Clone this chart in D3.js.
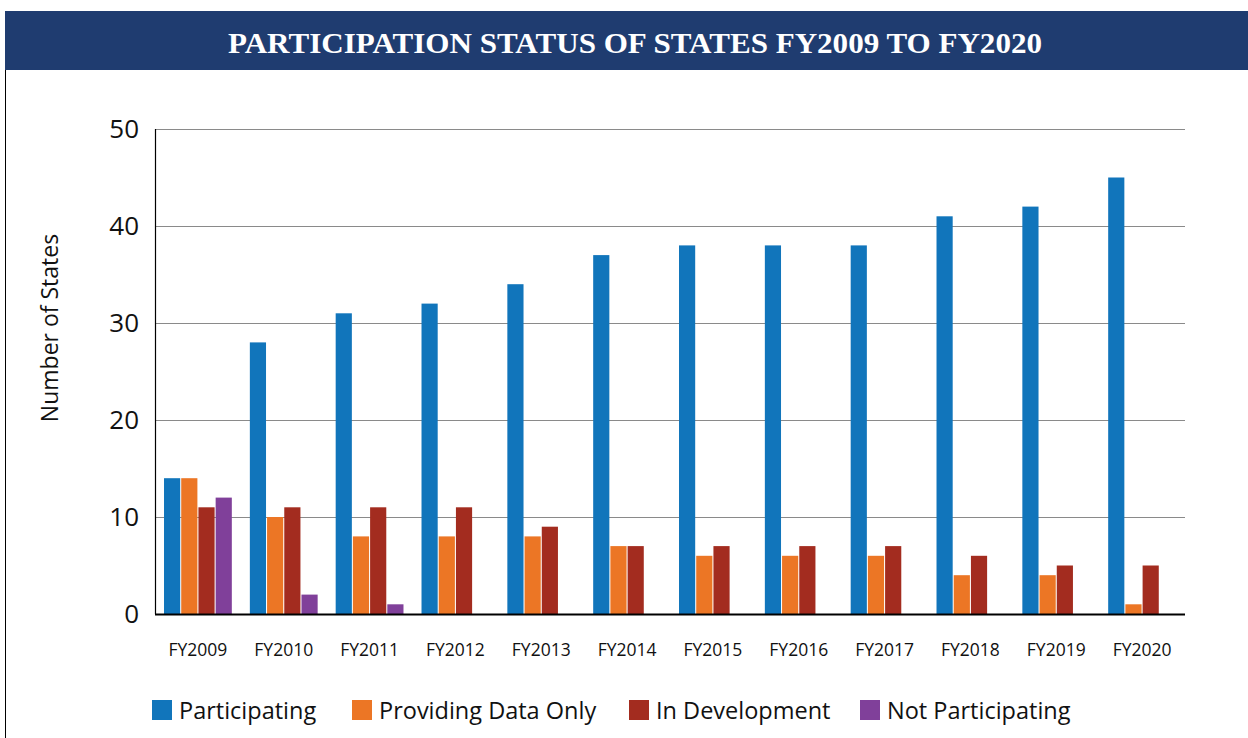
<!DOCTYPE html>
<html>
<head>
<meta charset="utf-8">
<script src="https://cdn.jsdelivr.net/npm/d3@7"></script>
<style>
  body { margin: 0; background: #fff; }
  svg { display: block; }
</style>
</head>
<body>
<div id="chart"></div>
<script>
// chart data
const years = ["FY2009", "FY2010", "FY2011", "FY2012", "FY2013", "FY2014",
    "FY2015", "FY2016", "FY2017", "FY2018", "FY2019", "FY2020"];
const participating = [14, 28, 31, 32, 34, 37, 38, 38, 38, 41, 42, 45];
const providingDataOnly = [14, 10, 8, 8, 8, 7, 6, 6, 6, 4, 4, 1];
const inDevelopment = [11, 11, 11, 11, 9, 7, 7, 7, 7, 6, 5, 5];
const notParticipating = [12, 2, 1, 0, 0, 0, 0, 0, 0, 0, 0, 0];
const seriesNames = ["Participating", "Providing Data Only", "In Development", "Not Participating"];
const yTicks = [0, 10, 20, 30, 40, 50];

const seriesValues = [participating, providingDataOnly, inDevelopment, notParticipating];
const colors = ["#1175bb", "#ec7625", "#a32c1f", "#80409a"];

const W = 1248, H = 738;
const margin = { top: 129, right: 63, bottom: 124, left: 155 };
const width = W - margin.left - margin.right,
    height = H - margin.top - margin.bottom;

const svg = d3.select("#chart").append("svg")
    .attr("width", W)
    .attr("height", H);

// header band
svg.append("rect")
    .attr("x", 5).attr("y", 11)
    .attr("width", W - 5).attr("height", 59)
    .attr("fill", "#1f3c70");
svg.append("text")
    .attr("x", 635).attr("y", 53)
    .attr("text-anchor", "middle")
    .attr("fill", "#fff")
    .attr("textLength", 814)
    .attr("lengthAdjust", "spacingAndGlyphs")
    .style("font-family", "'Liberation Serif', serif")
    .style("font-weight", "bold")
    .style("font-size", "30px")
    .text("PARTICIPATION STATUS OF STATES FY2009 TO FY2020");

// left frame line
svg.append("line")
    .attr("x1", 5.5).attr("x2", 5.5)
    .attr("y1", 70).attr("y2", H)
    .attr("stroke", "#000").attr("stroke-width", 1);

const g = svg.append("g")
    .attr("transform", `translate(${margin.left}, ${margin.top})`);

const x = d3.scaleBand()
    .domain(years)
    .range([0, width])
    .paddingInner(0.21)
    .paddingOuter(0.105);

const x1 = d3.scaleBand()
    .domain(seriesNames)
    .range([0, x.bandwidth()])
    .paddingInner(0.06);

const y = d3.scaleLinear()
    .domain([0, 50])
    .range([height, 0]);

// gridlines
g.append("g")
    .selectAll("line")
    .data(yTicks.filter(d => d > 0))
    .join("line")
    .attr("x1", 0).attr("x2", width)
    .attr("y1", d => y(d) + 0.5).attr("y2", d => y(d) + 0.5)
    .attr("stroke", "#8a8a8a")
    .attr("stroke-width", 1.2);

// y tick labels
g.append("g")
    .selectAll("text")
    .data(yTicks)
    .join("text")
    .attr("x", -16)
    .attr("y", d => y(d) + 9)
    .attr("text-anchor", "end")
    .style("font-family", "'Open Sans', sans-serif")
    .style("font-size", "26px")
    .attr("fill", "#111")
    .text(d => d);

// bars
const groups = g.append("g")
    .selectAll("g")
    .data(years)
    .join("g")
    .attr("transform", d => `translate(${x(d)}, 0)`);

groups.selectAll("rect")
    .data((d, i) => seriesNames.map((s, j) => ({ key: s, value: seriesValues[j][i], color: colors[j] })))
    .join("rect")
    .attr("x", d => x1(d.key))
    .attr("width", x1.bandwidth())
    .attr("y", d => y(d.value))
    .attr("height", d => y(0) - y(d.value))
    .attr("fill", d => d.color);

// axes lines
g.append("line")
    .attr("x1", 0.5).attr("x2", 0.5)
    .attr("y1", 0).attr("y2", height)
    .attr("stroke", "#000").attr("stroke-width", 1.2);
g.append("line")
    .attr("x1", 0).attr("x2", width)
    .attr("y1", height + 0.5).attr("y2", height + 0.5)
    .attr("stroke", "#000").attr("stroke-width", 2);

// x labels
g.append("g")
    .selectAll("text")
    .data(years)
    .join("text")
    .attr("x", d => x(d) + x.bandwidth() / 2)
    .attr("y", height + 42)
    .attr("text-anchor", "middle")
    .style("font-family", "'Open Sans', sans-serif")
    .style("font-size", "17.5px")
    .attr("fill", "#111")
    .text(d => d);

// y axis title
svg.append("text")
    .attr("transform", "translate(58, 328) rotate(-90)")
    .attr("text-anchor", "middle")
    .style("font-family", "'Open Sans', sans-serif")
    .style("font-size", "23px")
    .attr("fill", "#111")
    .text("Number of States");

// legend
const legendX = [152, 352, 629, 860];
const legend = svg.append("g")
    .selectAll("g")
    .data(seriesNames)
    .join("g")
    .attr("transform", (d, i) => `translate(${legendX[i]}, 700)`);
legend.append("rect")
    .attr("width", 20).attr("height", 20)
    .attr("fill", (d, i) => colors[i]);
legend.append("text")
    .attr("x", 27).attr("y", 19)
    .style("font-family", "'Open Sans', sans-serif")
    .style("font-size", "23.5px")
    .attr("fill", "#111")
    .text(d => d);
</script>
</body>
</html>
